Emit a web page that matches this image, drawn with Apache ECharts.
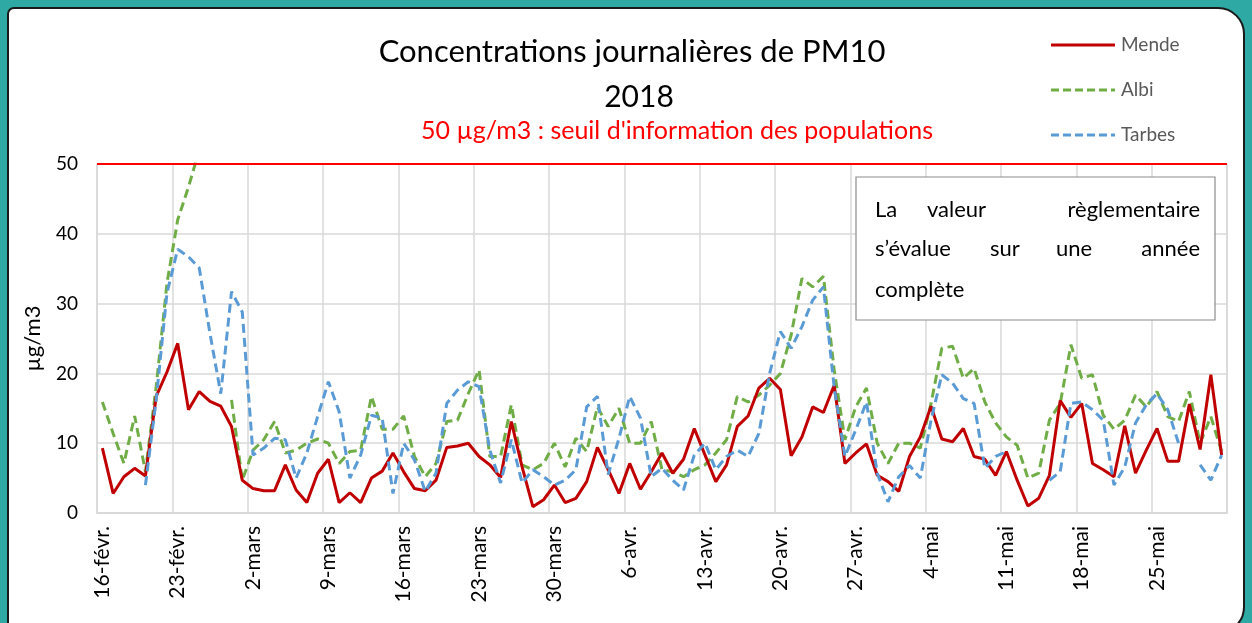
<!DOCTYPE html>
<html><head><meta charset="utf-8">
<script src="https://cdn.jsdelivr.net/npm/echarts@6/dist/echarts.min.js"></script>
<style>html,body{margin:0;padding:0;background:#2EA9A3;}#c{width:1252px;height:623px;}</style>
</head><body><div id="c"></div>
<script>
const categories = [
'16-févr.','17-févr.','18-févr.','19-févr.','20-févr.','21-févr.','22-févr.','23-févr.','24-févr.','25-févr.','26-févr.','27-févr.','28-févr.',
'1-mars','2-mars','3-mars','4-mars','5-mars','6-mars','7-mars','8-mars','9-mars','10-mars','11-mars','12-mars','13-mars','14-mars','15-mars','16-mars','17-mars','18-mars','19-mars','20-mars','21-mars','22-mars','23-mars','24-mars','25-mars','26-mars','27-mars','28-mars','29-mars','30-mars','31-mars',
'1-avr.','2-avr.','3-avr.','4-avr.','5-avr.','6-avr.','7-avr.','8-avr.','9-avr.','10-avr.','11-avr.','12-avr.','13-avr.','14-avr.','15-avr.','16-avr.','17-avr.','18-avr.','19-avr.','20-avr.','21-avr.','22-avr.','23-avr.','24-avr.','25-avr.','26-avr.','27-avr.','28-avr.','29-avr.','30-avr.',
'1-mai','2-mai','3-mai','4-mai','5-mai','6-mai','7-mai','8-mai','9-mai','10-mai','11-mai','12-mai','13-mai','14-mai','15-mai','16-mai','17-mai','18-mai','19-mai','20-mai','21-mai','22-mai','23-mai','24-mai','25-mai','26-mai','27-mai','28-mai','29-mai','30-mai','31-mai'
];
const mende = [
9.3,2.8,5.2,6.4,5.3,16.7,20.2,24.3,14.8,17.4,
16.0,15.3,12.4,4.7,3.5,3.2,3.2,6.9,3.3,1.5,
5.7,7.7,1.5,2.9,1.5,5.0,6.0,8.6,5.9,3.5,
3.2,4.7,9.4,9.6,10.0,8.1,6.9,5.1,13.1,6.6,
0.9,1.9,4.0,1.5,2.1,4.5,9.4,6.2,2.8,7.1,
3.4,5.9,8.6,5.7,7.7,12.1,8.3,4.5,6.9,12.4,
13.9,17.9,19.3,17.7,8.2,10.9,15.2,14.4,18.3,7.1,
8.6,9.9,5.4,4.5,3.1,8.1,10.9,15.3,10.6,10.2,
12.1,8.1,7.7,5.4,8.8,4.7,1.0,2.1,5.4,16.1,
13.7,15.7,7.1,6.2,5.2,12.5,5.7,9.0,12.1,7.4,
7.4,15.6,9.1,19.8,8.3
];
const albi = [
15.9,11.4,7.1,13.9,5.9,18.1,32.9,42.0,46.7,52.0,
null,null,16.2,4.7,9.0,10.5,13.1,8.6,9.0,10.0,
10.6,10.0,7.1,8.8,9.0,16.7,12.0,12.0,13.9,8.1,
5.2,7.1,13.1,13.3,17.1,20.5,8.1,8.1,15.5,6.9,
6.2,7.1,10.0,6.6,10.7,8.8,15.2,12.4,15.0,10.0,
10.0,13.1,6.2,5.9,5.2,6.2,6.9,8.6,10.5,16.7,
15.9,16.9,18.3,20.0,25.5,33.6,32.4,33.9,20.5,10.5,
15.2,17.9,10.0,7.1,10.0,10.0,9.3,15.7,23.6,23.9,
19.3,20.7,15.9,12.9,10.9,9.7,5.0,5.7,13.3,15.7,
24.1,19.3,19.8,14.0,12.0,13.3,16.9,15.2,17.4,13.8,
13.1,17.4,10.0,13.8,8.8
];
const tarbes = [
null,null,null,null,4.0,16.2,31.5,37.8,36.7,35.1,
25.7,17.1,31.7,28.8,8.3,9.3,10.7,10.5,5.0,8.6,
13.8,18.8,14.5,5.0,8.3,14.0,13.6,2.8,10.0,7.6,
3.1,5.7,15.7,17.6,18.8,18.1,9.0,4.3,10.5,4.3,
6.2,5.2,4.0,4.7,6.2,15.2,16.7,5.5,10.7,16.7,
13.6,5.2,6.4,4.7,3.3,8.3,10.0,6.2,8.1,9.0,
8.1,11.4,20.0,26.0,23.6,26.7,30.5,32.4,18.0,8.1,
11.9,15.9,5.7,1.6,5.2,6.8,5.0,13.3,19.8,18.6,
16.4,15.7,6.4,8.1,8.8,null,null,null,4.7,5.9,
15.7,15.9,14.8,13.3,4.0,6.6,12.9,15.5,17.1,14.8,
10.0,null,6.9,4.7,8.3
];
const seriesNames = ['Mende','Albi','Tarbes'];
const seriesColors = ['#C00000','#70AD47','#5B9BD5'];
const seuil = 50;
const FONT = 'Lato,"Open Sans",sans-serif';
const chart = echarts.init(document.getElementById('c'), null, {renderer:'canvas'});

const legendGraphics = [];
seriesNames.forEach(function(n, i){
  const y = 45 + i*45;
  legendGraphics.push({type:'line', z:60, shape:{x1:1051,y1:y,x2:1115,y2:y},
    style:{stroke:seriesColors[i], lineWidth:3, lineDash: i===0 ? null : [8,4]}});
  legendGraphics.push({type:'text', z:60, style:{text:n, x:1121, y:y, textVerticalAlign:'middle', fill:'#595959', font:'19px '+FONT}});
});

chart.setOption({
  animation:false,
  backgroundColor:'transparent',
  textStyle:{fontFamily:FONT},
  graphic:[
    {type:'rect', z:-10, shape:{x:8,y:8,width:1236,height:625,r:[6,26,26,6]}, style:{fill:'#ffffff',stroke:'#1a1a1a',lineWidth:2}},
    {type:'text', style:{text:'Concentrations journalières de PM10', x:632, y:52, textAlign:'center', textVerticalAlign:'middle', fill:'#000', font:'31px '+FONT}},
    {type:'text', style:{text:'2018', x:639, y:97, textAlign:'center', textVerticalAlign:'middle', fill:'#000', font:'30px '+FONT}},
    {type:'text', style:{text:'50 µg/m3 : seuil d\'information des populations', x:677, y:131, textAlign:'center', textVerticalAlign:'middle', fill:'#FF0000', font:'25px '+FONT}},
    {type:'rect', z:50, shape:{x:856,y:177,width:359,height:143}, style:{fill:'#ffffff',stroke:'#8c8c8c',lineWidth:1.2}},
    {type:'text', z:51, style:{text:'La', x:875, y:210, textVerticalAlign:'middle', fill:'#000', font:'22px '+FONT}},
    {type:'text', z:51, style:{text:'valeur', x:927, y:210, textVerticalAlign:'middle', fill:'#000', font:'22px '+FONT}},
    {type:'text', z:51, style:{text:'règlementaire', x:1200, y:210, textAlign:'right', textVerticalAlign:'middle', fill:'#000', font:'22px '+FONT}},
    {type:'text', z:51, style:{text:'s\u2019évalue', x:875, y:249, textVerticalAlign:'middle', fill:'#000', font:'22px '+FONT}},
    {type:'text', z:51, style:{text:'sur', x:990, y:249, textVerticalAlign:'middle', fill:'#000', font:'22px '+FONT}},
    {type:'text', z:51, style:{text:'une', x:1056, y:249, textVerticalAlign:'middle', fill:'#000', font:'22px '+FONT}},
    {type:'text', z:51, style:{text:'année', x:1200, y:249, textAlign:'right', textVerticalAlign:'middle', fill:'#000', font:'22px '+FONT}},
    {type:'text', z:51, style:{text:'complète', x:875, y:290, textVerticalAlign:'middle', fill:'#000', font:'22px '+FONT}}
  ].concat(legendGraphics),
  grid:{left:97, right:25, top:164, bottom:110, show:true, borderColor:'#d9d9d9', borderWidth:1.5, backgroundColor:'transparent'},
  xAxis:{
    type:'category', data:categories, boundaryGap:true,
    axisLine:{show:true, lineStyle:{color:'#d9d9d9', width:1.5}},
    axisTick:{show:false, interval:6},
    axisLabel:{interval:6, rotate:90, color:'#000', fontSize:21, fontFamily:FONT, margin:13},
    splitLine:{show:true, interval:6, lineStyle:{color:'#d9d9d9', width:1.5}}
  },
  yAxis:{
    type:'value', min:0, max:50, interval:10,
    name:'µg/m3', nameLocation:'middle', nameGap:53, nameRotate:90,
    nameTextStyle:{color:'#000', fontSize:22, fontFamily:FONT},
    axisLine:{show:false}, axisTick:{show:false},
    axisLabel:{color:'#000', fontSize:19, fontFamily:FONT, margin:19},
    splitLine:{lineStyle:{color:'#d9d9d9', width:1.5}}
  },
  series:[
    {name:seriesNames[0], type:'line', data:mende, symbol:'none', z:3,
     lineStyle:{color:seriesColors[0], width:3}, itemStyle:{color:seriesColors[0]},
     markLine:{silent:true, symbol:'none', label:{show:false}, lineStyle:{color:'#FF0000', width:2, type:'solid'}, data:[{yAxis:seuil}]}},
    {name:seriesNames[1], type:'line', data:albi, symbol:'none', z:2, connectNulls:false,
     lineStyle:{color:seriesColors[1], width:3, type:[9,5]}, itemStyle:{color:seriesColors[1]}},
    {name:seriesNames[2], type:'line', data:tarbes, symbol:'none', z:4, connectNulls:false,
     lineStyle:{color:seriesColors[2], width:3, type:[9,5]}, itemStyle:{color:seriesColors[2]}}
  ]
});
</script></body></html>
